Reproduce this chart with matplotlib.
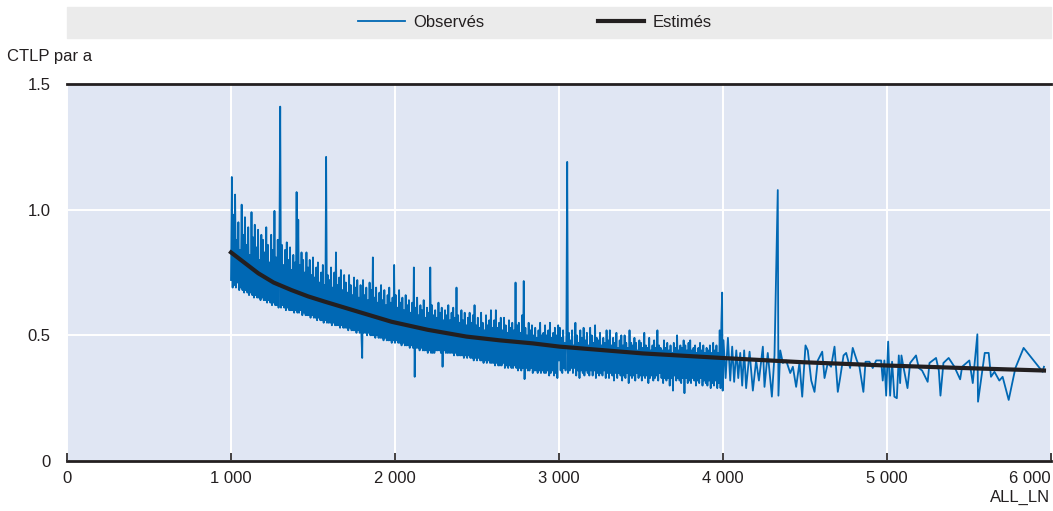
import matplotlib
matplotlib.use("Agg")
import matplotlib.pyplot as plt
import numpy as np

plt.rcParams['font.family'] = ['Liberation Sans', 'DejaVu Sans']

# observed CTLP, dense part read at a 5-unit step (1000-1995, 2000-2995, 3000-3995)
obs_a = [0.72, 1.13, 0.69, 0.98, 0.70, 1.06, 0.69, 0.88, 0.71, 0.95,
         0.68, 0.84, 0.69, 1.02, 0.68, 0.90, 0.67, 0.97, 0.68, 0.86,
         0.67, 0.93, 0.66, 0.82, 0.67, 0.99, 0.66, 0.89, 0.65, 0.94,
         0.66, 0.85, 0.65, 0.92, 0.65, 0.80, 0.64, 0.90, 0.65, 0.88,
         0.64, 0.83, 0.64, 0.93, 0.63, 0.86, 0.64, 0.79, 0.63, 0.90,
         0.62, 0.84, 0.63, 0.995, 0.62, 0.81, 0.62, 0.88, 0.61, 0.83,
         1.41, 0.61, 0.86, 0.62, 0.78, 0.61, 0.84, 0.60, 0.87, 0.61,
         0.80, 0.60, 0.85, 0.60, 0.76, 0.60, 0.82, 0.59, 0.79, 0.60,
         1.07, 0.59, 0.96, 0.59, 0.78, 0.60, 0.83, 0.58, 0.80, 0.59,
         0.75, 0.58, 0.83, 0.58, 0.77, 0.58, 0.80, 0.57, 0.74, 0.58,
         0.81, 0.57, 0.73, 0.57, 0.77, 0.56, 0.79, 0.57, 0.71, 0.56,
         0.75, 0.56, 0.78, 0.55, 0.70, 0.56, 1.21, 0.55, 0.74, 0.55,
         0.72, 0.55, 0.77, 0.54, 0.69, 0.55, 0.75, 0.54, 0.83, 0.54,
         0.70, 0.54, 0.73, 0.53, 0.76, 0.54, 0.68, 0.53, 0.74, 0.53,
         0.71, 0.53, 0.67, 0.52, 0.74, 0.53, 0.70, 0.52, 0.66, 0.52,
         0.73, 0.52, 0.69, 0.51, 0.72, 0.52, 0.65, 0.51, 0.70, 0.51,
         0.41, 0.72, 0.51, 0.66, 0.51, 0.69, 0.50, 0.64, 0.51, 0.71,
         0.50, 0.68, 0.50, 0.81, 0.50, 0.65, 0.49, 0.69, 0.50, 0.63,
         0.49, 0.67, 0.49, 0.70, 0.49, 0.64, 0.48, 0.68, 0.49, 0.62,
         0.48, 0.66, 0.48, 0.69, 0.48, 0.63, 0.47, 0.65, 0.48, 0.78]
obs_b = [0.47, 0.66, 0.48, 0.61, 0.47, 0.68, 0.47, 0.63, 0.46, 0.65,
         0.47, 0.60, 0.46, 0.66, 0.46, 0.62, 0.46, 0.64, 0.45, 0.59,
         0.46, 0.63, 0.45, 0.77, 0.335, 0.61, 0.45, 0.65, 0.45, 0.58,
         0.44, 0.62, 0.45, 0.60, 0.44, 0.64, 0.44, 0.57, 0.44, 0.61,
         0.43, 0.59, 0.44, 0.77, 0.43, 0.62, 0.43, 0.58, 0.43, 0.60,
         0.44, 0.57, 0.44, 0.63, 0.44, 0.59, 0.43, 0.61, 0.375, 0.56,
         0.44, 0.60, 0.43, 0.58, 0.43, 0.62, 0.43, 0.56, 0.43, 0.59,
         0.43, 0.61, 0.42, 0.57, 0.43, 0.69, 0.42, 0.58, 0.42, 0.55,
         0.42, 0.60, 0.42, 0.56, 0.41, 0.59, 0.42, 0.54, 0.41, 0.57,
         0.42, 0.59, 0.41, 0.55, 0.41, 0.58, 0.40, 0.62, 0.41, 0.54,
         0.40, 0.57, 0.41, 0.53, 0.40, 0.59, 0.40, 0.55, 0.39, 0.52,
         0.40, 0.58, 0.39, 0.54, 0.40, 0.56, 0.39, 0.60, 0.39, 0.53,
         0.39, 0.56, 0.38, 0.60, 0.39, 0.53, 0.38, 0.55, 0.38, 0.57,
         0.38, 0.52, 0.39, 0.57, 0.37, 0.54, 0.38, 0.51, 0.37, 0.56,
         0.38, 0.53, 0.37, 0.55, 0.37, 0.52, 0.38, 0.71, 0.37, 0.54,
         0.36, 0.55, 0.37, 0.51, 0.36, 0.58, 0.37, 0.716, 0.326, 0.53,
         0.37, 0.50, 0.36, 0.55, 0.36, 0.52, 0.37, 0.54, 0.35, 0.50,
         0.36, 0.53, 0.36, 0.49, 0.35, 0.52, 0.36, 0.55, 0.35, 0.50,
         0.36, 0.51, 0.35, 0.54, 0.35, 0.50, 0.36, 0.52, 0.34, 0.55,
         0.35, 0.49, 0.36, 0.51, 0.34, 0.53, 0.35, 0.50, 0.33, 0.54]
obs_c = [0.40, 0.53, 0.36, 0.49, 0.35, 0.52, 0.37, 0.47, 0.36, 0.50,
         1.19, 0.35, 0.51, 0.36, 0.48, 0.37, 0.52, 0.35, 0.46, 0.37,
         0.55, 0.34, 0.50, 0.36, 0.47, 0.33, 0.52, 0.36, 0.49, 0.35,
         0.53, 0.34, 0.48, 0.36, 0.51, 0.35, 0.46, 0.34, 0.53, 0.36,
         0.50, 0.34, 0.47, 0.36, 0.54, 0.33, 0.49, 0.35, 0.48, 0.34,
         0.51, 0.35, 0.46, 0.34, 0.49, 0.36, 0.47, 0.33, 0.52, 0.35,
         0.48, 0.33, 0.52, 0.35, 0.46, 0.34, 0.49, 0.32, 0.47, 0.35,
         0.51, 0.33, 0.45, 0.35, 0.48, 0.34, 0.50, 0.32, 0.46, 0.34,
         0.50, 0.33, 0.47, 0.35, 0.45, 0.31, 0.52, 0.34, 0.47, 0.33,
         0.46, 0.34, 0.49, 0.32, 0.47, 0.35, 0.44, 0.33, 0.48, 0.34,
         0.47, 0.32, 0.45, 0.34, 0.51, 0.33, 0.46, 0.34, 0.45, 0.31,
         0.49, 0.33, 0.44, 0.34, 0.46, 0.32, 0.48, 0.33, 0.45, 0.34,
         0.52, 0.32, 0.46, 0.35, 0.45, 0.33, 0.44, 0.31, 0.48, 0.33,
         0.45, 0.32, 0.47, 0.33, 0.44, 0.30, 0.46, 0.33, 0.43, 0.28,
         0.47, 0.34, 0.45, 0.32, 0.50, 0.33, 0.44, 0.32, 0.46, 0.31,
         0.45, 0.33, 0.48, 0.27, 0.46, 0.33, 0.44, 0.31, 0.47, 0.32,
         0.48, 0.31, 0.44, 0.33, 0.45, 0.32, 0.46, 0.30, 0.43, 0.32,
         0.45, 0.31, 0.47, 0.33, 0.44, 0.30, 0.46, 0.32, 0.43, 0.31,
         0.45, 0.30, 0.44, 0.32, 0.46, 0.29, 0.43, 0.31, 0.47, 0.30,
         0.44, 0.32, 0.46, 0.29, 0.43, 0.31, 0.52, 0.29, 0.55, 0.67]

# sparse tail, read point by point
tail_x = [3998, 4003, 4016, 4030, 4044, 4056, 4068, 4081, 4093, 4105,
          4117, 4129, 4141, 4162, 4182, 4202, 4219, 4243, 4253, 4273,
          4298, 4314, 4334, 4338, 4349, 4365, 4385, 4410, 4426, 4446,
          4466, 4483, 4503, 4517, 4538, 4558, 4578, 4605, 4619, 4639,
          4659, 4680, 4700, 4714, 4735, 4751, 4775, 4791, 4816, 4832,
          4856, 4869, 4893, 4913, 4934, 4964, 4974, 4984, 4995, 5007,
          5019, 5031, 5045, 5060, 5072, 5080, 5088, 5100, 5125, 5141,
          5177, 5194, 5214, 5248, 5259, 5299, 5316, 5326, 5344, 5376,
          5411, 5446, 5458, 5502, 5523, 5551, 5555, 5596, 5620, 5634,
          5655, 5685, 5705, 5742, 5783, 5833, 5949, 5957]
tail_y = [0.28, 0.48, 0.33, 0.49, 0.32, 0.455, 0.315, 0.44, 0.33, 0.43,
          0.30, 0.44, 0.29, 0.435, 0.28, 0.40, 0.32, 0.455, 0.295, 0.43,
          0.256, 0.42, 1.078, 0.26, 0.44, 0.39, 0.40, 0.35, 0.375, 0.295,
          0.39, 0.256, 0.46, 0.44, 0.32, 0.275, 0.40, 0.435, 0.33, 0.39,
          0.375, 0.455, 0.275, 0.33, 0.42, 0.43, 0.37, 0.45, 0.40, 0.375,
          0.275, 0.395, 0.395, 0.37, 0.40, 0.40, 0.32, 0.40, 0.26, 0.475,
          0.26, 0.395, 0.256, 0.25, 0.42, 0.31, 0.42, 0.375, 0.29, 0.39,
          0.42, 0.37, 0.36, 0.315, 0.39, 0.41, 0.36, 0.26, 0.39, 0.41,
          0.375, 0.325, 0.375, 0.40, 0.31, 0.504, 0.236, 0.43, 0.43, 0.335,
          0.355, 0.32, 0.335, 0.243, 0.37, 0.45, 0.355, 0.375]

est_x = [1000, 1080, 1166, 1260, 1369, 1470, 1572, 1775, 1979, 2200,
         2436, 2640, 2840, 3004, 3512, 4020, 4487, 4995, 5462, 5957]
est_y = [0.83, 0.79, 0.747, 0.71, 0.68, 0.655, 0.634, 0.594, 0.554, 0.522,
         0.495, 0.48, 0.468, 0.455, 0.428, 0.409, 0.393, 0.38, 0.37, 0.36]

xticks = [0, 1000, 2000, 3000, 4000, 5000, 6000]
xlabels = ["0", "1 000", "2 000", "3 000", "4 000", "5 000", "6 000"]
yticks = [0, 0.5, 1.0, 1.5]
ylabels = ["0", "0.5", "1.0", "1.5"]

obs_x = np.concatenate([1000 + 5 * np.arange(len(obs_a)),
                        2000 + 5 * np.arange(len(obs_b)),
                        3000 + 5 * np.arange(len(obs_c)),
                        tail_x])
obs_y = np.concatenate([obs_a, obs_b, obs_c, tail_y])

dark = "#231f20"
fig = plt.figure(figsize=(10.53, 5.11), dpi=100)
ax = fig.add_axes([67 / 1053, 1 - 461 / 511, 984 / 1053, 377 / 511])
ax.set_facecolor("#e0e6f3")

ax.plot(obs_x, obs_y, color="#0068b4", lw=1.3, label="Observés", zorder=3)
ax.plot(est_x, est_y, color=dark, lw=3, label="Estimés", zorder=4)

ax.set_xlim(0, 6000)
ax.set_ylim(0, 1.5)
ax.set_xticks(xticks)
ax.set_xticklabels(xlabels)
ax.set_yticks(yticks)
ax.set_yticklabels(ylabels)
ax.grid(True, color="white", lw=1.4, zorder=0)
ax.set_axisbelow(True)
for s in ["left", "right"]:
    ax.spines[s].set_visible(False)
for s in ["top", "bottom"]:
    ax.spines[s].set_color(dark)
    ax.spines[s].set_linewidth(2)
ax.tick_params(axis="x", direction="in", length=6, width=1.2, color=dark, pad=7,
               labelsize=12, labelcolor=dark)
ax.tick_params(axis="y", length=0, pad=12, labelsize=12, labelcolor=dark)
ax.get_xticklabels()[-1].set_horizontalalignment("right")

# legend band
band = plt.Rectangle((67 / 1053, 1 - 38 / 511), 984 / 1053, 31 / 511,
                     transform=fig.transFigure, color="#ebebeb", zorder=0)
fig.patches.append(band)
fig.legend(loc="center", bbox_to_anchor=(535 / 1053, 1 - 22.5 / 511), ncol=2,
           frameon=False, fontsize=12, handlelength=2.8, handletextpad=0.5,
           columnspacing=6.8, labelcolor=dark)

fig.text(7 / 1053, 1 - 57 / 511, "CTLP par a", ha="left", va="center", fontsize=12, color=dark)
fig.text(1050 / 1053, 1 - 497 / 511, "ALL_LN", ha="right", va="center", fontsize=12, color=dark)

fig.savefig("out.png", dpi=100)
